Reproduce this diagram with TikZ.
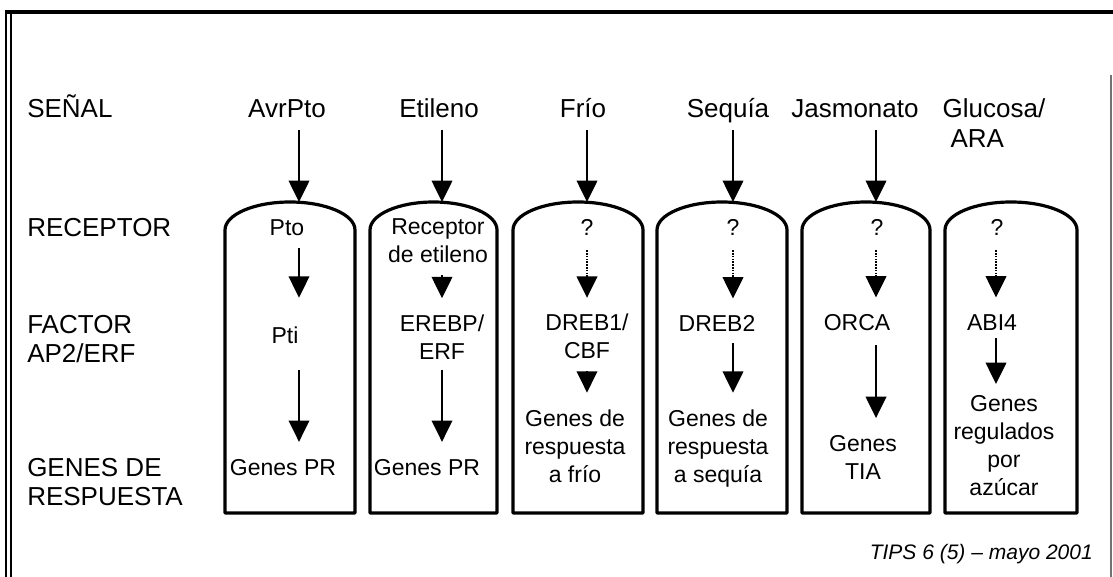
\documentclass[tikz,border=0pt]{standalone}
\usepackage{fontspec}
\setmainfont{Liberation Sans}
\usetikzlibrary{arrows.meta,positioning}

\begin{document}
\begin{tikzpicture}[x=0.75pt, y=-0.75pt,
  bigtext/.style={inner sep=0pt, font=\fontsize{19.5}{22}\selectfont},
  rowlabel/.style={bigtext, anchor=west, align=left},
  sigtext/.style={bigtext, text height=14pt, text depth=0pt},
  intext/.style={inner sep=0pt, align=center, font=\fontsize{17.25}{21}\selectfont},
  oneline/.style={text height=12.35pt, text depth=0pt},
  srctext/.style={inner sep=0pt, text height=11.3pt, text depth=0pt, font=\fontsize{15.75}{18}\selectfont\itshape},
  tube/.style={line width=2.4pt, line join=round},
  sigarrow/.style={line width=1.1pt, -{Triangle[length=16pt, width=15.5pt]}},
  dotarrow/.style={sigarrow, densely dotted}]
  \useasboundingbox (0,0) rectangle (1113,577);

  % frame
  \draw[line width=3pt] (5,12) -- (1113,12);
  \draw[line width=1.5pt] (6,10) -- (6,577);
  \draw[line width=1.5pt] (11,14) -- (11,577);
  \draw[black!55, line width=0.8pt] (1111,75) -- (1111,577);

  % row labels
  \node[rowlabel, text height=14pt, text depth=0pt] (senal) at (27,108) {SEÑAL};
  \node[rowlabel, text height=14pt, text depth=0pt] (receptor) at (27,227) {RECEPTOR};
  \node[rowlabel] (factor) at (27,339) {FACTOR\\AP2/ERF};
  \node[rowlabel] (respuesta) at (27,482) {GENES DE\\RESPUESTA};

  % signals
  \node[sigtext] (avrpto) at (287,108) {AvrPto};
  \node[sigtext] (etileno) at (439,108) {Etileno};
  \node[sigtext] (frio) at (583,108) {Frío};
  \node[sigtext] (sequia) at (728,108) {Sequía};
  \node[sigtext] (jasmonato) at (855,108) {Jasmonato};
  \node[bigtext, align=left] (glucosa) at (994,123) {Glucosa/\\\hspace*{0.3em}ARA};

  % tubes
  \draw[tube] (225,513) -- (225,230) arc[start angle=180, end angle=360, x radius=65, y radius=28] -- (355,513) -- cycle;
  \draw[tube] (370,513) -- (370,230) arc[start angle=180, end angle=360, x radius=63.5, y radius=28] -- (497,513) -- cycle;
  \draw[tube] (513,513) -- (513,230) arc[start angle=180, end angle=360, x radius=65, y radius=28] -- (643,513) -- cycle;
  \draw[tube] (657,513) -- (657,230) arc[start angle=180, end angle=360, x radius=65, y radius=28] -- (787,513) -- cycle;
  \draw[tube] (802,513) -- (802,230) arc[start angle=180, end angle=360, x radius=64, y radius=28] -- (930,513) -- cycle;
  \draw[tube] (945,513) -- (945,230) arc[start angle=180, end angle=360, x radius=66, y radius=28] -- (1077,513) -- cycle;

  \coordinate (top1) at (299,202);
  \coordinate (top2) at (442,202);
  \coordinate (top3) at (587,202);
  \coordinate (top4) at (733,202);
  \coordinate (top5) at (876,202);
  \coordinate (top6) at (996,203);

  % receptors
  \node[intext, oneline] (pto) at (287,227) {Pto};
  \node[intext] (recet) at (438,241) {Receptor\\de etileno};
  \node[intext, oneline] (rec3) at (587,227) {?};
  \node[intext, oneline] (rec4) at (733,227) {?};
  \node[intext, oneline] (rec5) at (877,227) {?};
  \node[intext, oneline] (rec6) at (997,227) {?};

  % AP2/ERF factors
  \node[intext, oneline] (pti) at (285,335) {Pti};
  \node[intext] (erebp) at (442,337.5) {EREBP/\\ERF};
  \node[intext] (dreb1) at (587,336.5) {DREB1/\\CBF};
  \node[intext, oneline] (dreb2) at (717,323) {DREB2};
  \node[intext, oneline] (orca) at (857,322) {ORCA};
  \node[intext, oneline] (abi4) at (992,322) {ABI4};

  % response genes
  \node[intext, oneline] (pr1) at (283,467) {Genes PR};
  \node[intext, oneline] (pr2) at (427,467) {Genes PR};
  \node[intext] (gfrio) at (575,446) {Genes de\\respuesta\\a frío};
  \node[intext] (gsequia) at (718,448.4) {Genes de\\respuesta\\a sequía};
  \node[intext] (gtia) at (863,457) {Genes\\TIA};
  \node[intext] (gazucar) at (1004,446) {Genes\\regulados\\por\\azúcar};

  \node[srctext, anchor=east] (fuente) at (1093,552) {TIPS 6 (5) – mayo 2001};

  % signal arrows
  \draw[sigarrow, shorten <=9.5pt] (avrpto.south -| top1) -- (top1);
  \draw[sigarrow, shorten <=9.5pt] (etileno.south -| top2) -- (top2);
  \draw[sigarrow, shorten <=9.5pt] (frio.south -| top3) -- (top3);
  \draw[sigarrow, shorten <=9.5pt] (sequia.south -| top4) -- (top4);
  \draw[sigarrow, shorten <=9.5pt] (jasmonato.south -| top5) -- (top5);

  % receptor to factor
  \draw[sigarrow, shorten <=9.6pt, shorten >=21.6pt] (pto.south -| top1) -- (pti.north -| top1);
  \draw[sigarrow, shorten <=8.9pt, shorten >=12.5pt] (recet.south -| top2) -- (erebp.north -| top2);
  \draw[dotarrow, shorten <=11.1pt, shorten >=12pt] (rec3.south -| top3) -- (dreb1.north -| top3);
  \draw[dotarrow, shorten <=11.1pt, shorten >=12pt] (rec4.south -| top4) -- (dreb2.north -| top4);
  \draw[dotarrow, shorten <=11.1pt, shorten >=12pt] (rec5.south -| top5) -- (orca.north -| top5);
  \draw[dotarrow, shorten <=11.1pt, shorten >=12pt] (rec6.south -| top6) -- (abi4.north -| top6);

  % factor to genes
  \draw[sigarrow, shorten <=20.1pt, shorten >=12.5pt] (pti.south -| top1) -- (pr1.north -| top1);
  \draw[sigarrow, shorten <=7.4pt, shorten >=12.5pt] (erebp.south -| top2) -- (pr2.north -| top2);
  \draw[sigarrow, shorten <=8.9pt, shorten >=12.5pt] (dreb1.south -| top3) -- (gfrio.north -| top3);
  \draw[sigarrow, shorten <=8.9pt, shorten >=12.5pt] (dreb2.south -| top4) -- (gsequia.north -| top4);
  \draw[sigarrow, shorten <=11.1pt, shorten >=12.5pt] (orca.south -| top5) -- (gtia.north -| top5);
  \draw[sigarrow, shorten <=5.9pt, shorten >=8.7pt] (abi4.south -| top6) -- (gazucar.north -| top6);
\end{tikzpicture}
\end{document}
